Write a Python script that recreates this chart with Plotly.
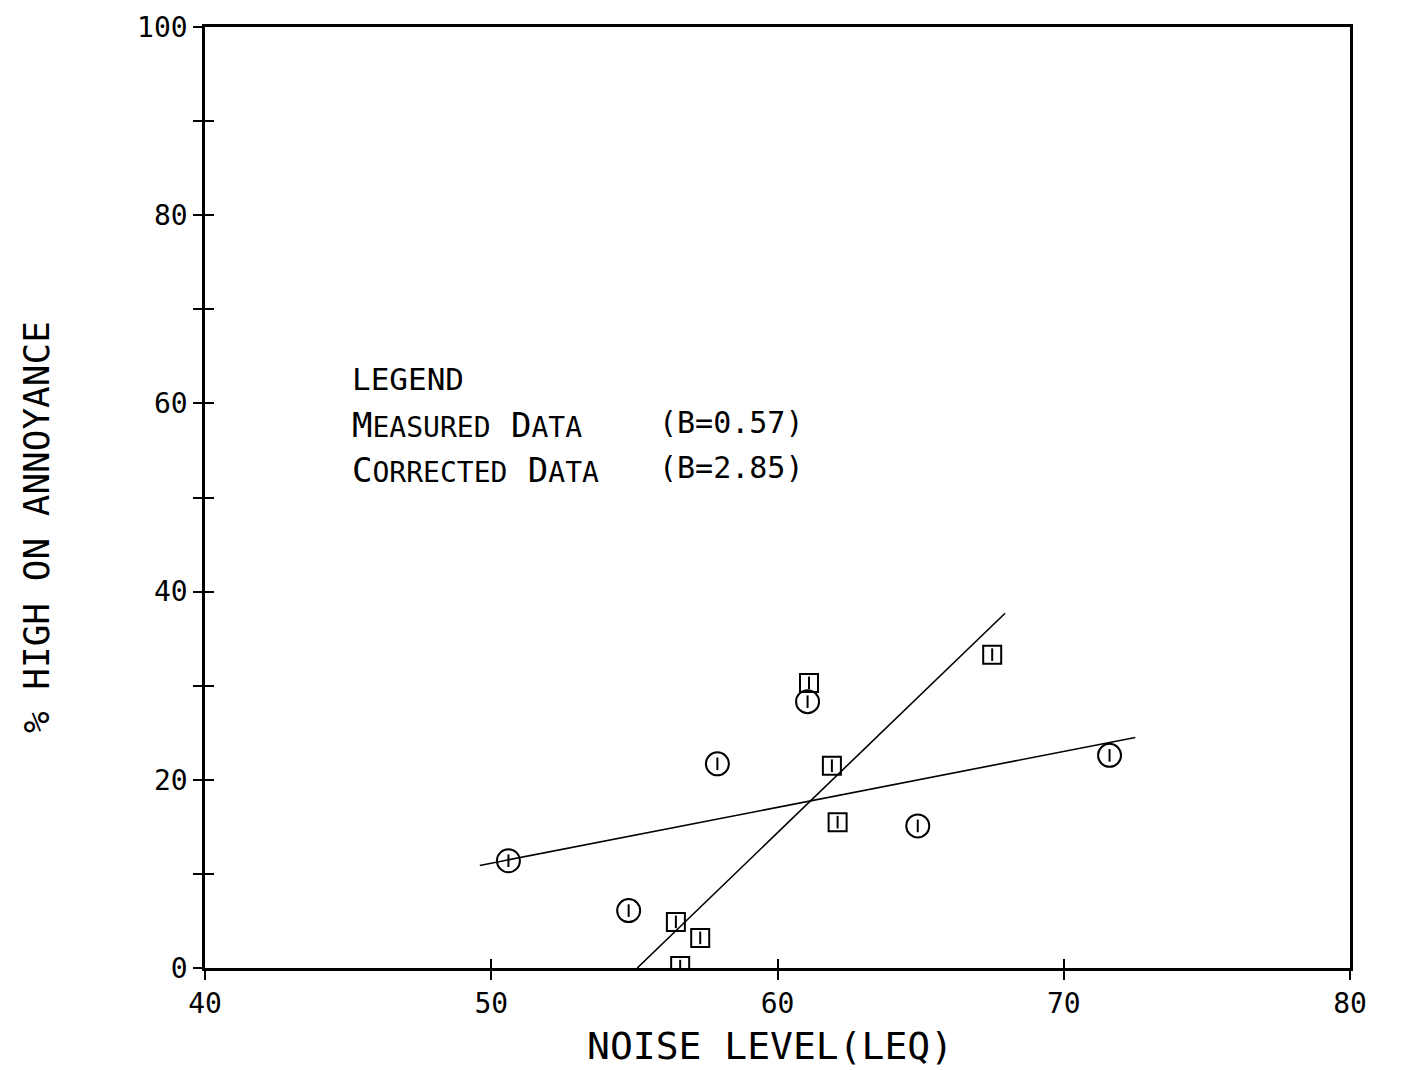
import plotly.graph_objects as go

# Measured data (circles)
measured_x = [50.6, 54.8, 57.9, 61.05, 64.9, 71.6]
measured_y = [11.4, 6.1, 21.7, 28.3, 15.1, 22.6]
# Corrected data (squares)
corrected_x = [61.1, 67.5, 61.9, 62.1, 56.45, 57.3, 56.6]
corrected_y = [30.3, 33.3, 21.5, 15.5, 4.9, 3.2, 0.2]
# Fitted lines (endpoints)
measured_fit_x = [49.6, 72.5]
measured_fit_y = [10.9, 24.5]
corrected_fit_x = [55.1, 67.95]
corrected_fit_y = [0.0, 37.7]

x_ticks = [40, 50, 60, 70, 80]
x_labels = ["40", "50", "60", "70", "80"]
y_ticks = [0, 10, 20, 30, 40, 50, 60, 70, 80, 90, 100]
y_labels = ["0", "", "20", "", "40", "", "60", "", "80", "", "100"]

FONT = "DejaVu Sans Mono"
W, H = 1404, 1070
OFF = 8  # page body margin
L, R, T, B = 205 - OFF, W - (1350 - OFF), 27 - OFF, H - (968 - OFF)

fig = go.Figure()

fig.add_trace(go.Scatter(x=measured_fit_x, y=measured_fit_y, mode="lines",
                         line=dict(color="black", width=1.6), showlegend=False))
fig.add_trace(go.Scatter(x=corrected_fit_x, y=corrected_fit_y, mode="lines",
                         line=dict(color="black", width=1.6), showlegend=False))
fig.add_trace(go.Scatter(x=measured_x, y=measured_y, mode="markers",
                         marker=dict(symbol="circle-open", size=23, color="black",
                                     line=dict(width=2, color="black")),
                         showlegend=False))
fig.add_trace(go.Scatter(x=corrected_x, y=corrected_y, mode="markers",
                         marker=dict(symbol="square-open", size=18, color="black",
                                     line=dict(width=2, color="black")),
                         showlegend=False))
fig.add_trace(go.Scatter(x=measured_x + corrected_x, y=measured_y + corrected_y, mode="markers",
                         marker=dict(symbol="line-ns", size=9, color="black",
                                     line=dict(width=2, color="black")),
                         showlegend=False))

fig.update_layout(
    width=W, height=H,
    paper_bgcolor="white", plot_bgcolor="white",
    margin=dict(l=L, r=R, t=T, b=B, autoexpand=False),
    font=dict(family=FONT, color="black"),
    xaxis=dict(range=[40, 80], tickvals=x_ticks, ticktext=x_labels, automargin=False,
               showgrid=False, zeroline=False, showline=True, linecolor="black",
               linewidth=2.5, mirror=True, ticks="outside", ticklen=9, tickwidth=2,
               tickcolor="black", tickfont=dict(size=28, family=FONT)),
    yaxis=dict(range=[0, 100], tickvals=y_ticks, ticktext=y_labels, automargin=False,
               showgrid=False, zeroline=False, showline=True, linecolor="black",
               linewidth=2.5, mirror=True, ticks="outside", ticklen=9, tickwidth=2,
               tickcolor="black", tickfont=dict(size=28, family=FONT)),
    xaxis2=dict(range=[40, 80], overlaying="x", tickvals=x_ticks[1:-1], showticklabels=False,
                ticks="inside", ticklen=9, tickwidth=2, tickcolor="black",
                showgrid=False, zeroline=False, showline=False),
    yaxis2=dict(range=[0, 100], overlaying="y", tickvals=y_ticks[1:-1], showticklabels=False,
                ticks="inside", ticklen=9, tickwidth=2, tickcolor="black",
                showgrid=False, zeroline=False, showline=False),
)
# dummy trace to activate overlay axes
fig.add_trace(go.Scatter(x=[None], y=[None], xaxis="x2", yaxis="y2", showlegend=False))

# axis titles placed as annotations (page pixel positions converted to paper fraction)
pw, ph = W - L - R, H - T - B
def px(xpage):
    return (xpage - OFF - L) / pw
def py(ypage):
    return 1 - (ypage - OFF - T) / ph

fig.add_annotation(x=px(770), y=py(1046), xref="paper", yref="paper", text="NOISE LEVEL(LEQ)",
                   showarrow=False, xanchor="center", yanchor="middle",
                   font=dict(size=38, family=FONT))
fig.add_annotation(x=px(36), y=py(527), xref="paper", yref="paper", text="% HIGH ON ANNOYANCE",
                   showarrow=False, xanchor="center", yanchor="middle", textangle=-90,
                   font=dict(size=36, family=FONT))

big = 34
small = 28
legend_lines = [
    ("LEGEND", 62.6, 31),
    (f"M<span style='font-size:{small}px'>EASURED</span> D<span style='font-size:{small}px'>ATA</span>", 57.7, big),
    (f"C<span style='font-size:{small}px'>ORRECTED</span> D<span style='font-size:{small}px'>ATA</span>", 52.9, big),
]
for text, yv, size in legend_lines:
    fig.add_annotation(x=45.05, y=yv, xref="x", yref="y", text=text, showarrow=False,
                       xanchor="left", yanchor="middle", font=dict(size=size, family=FONT))
for text, yv in [("(B=0.57)", 58.0, ), ("(B=2.85)", 53.2)]:
    fig.add_annotation(x=55.8, y=yv, xref="x", yref="y", text=text, showarrow=False,
                       xanchor="left", yanchor="middle", font=dict(size=30, family=FONT))

fig.write_html("out.html")
